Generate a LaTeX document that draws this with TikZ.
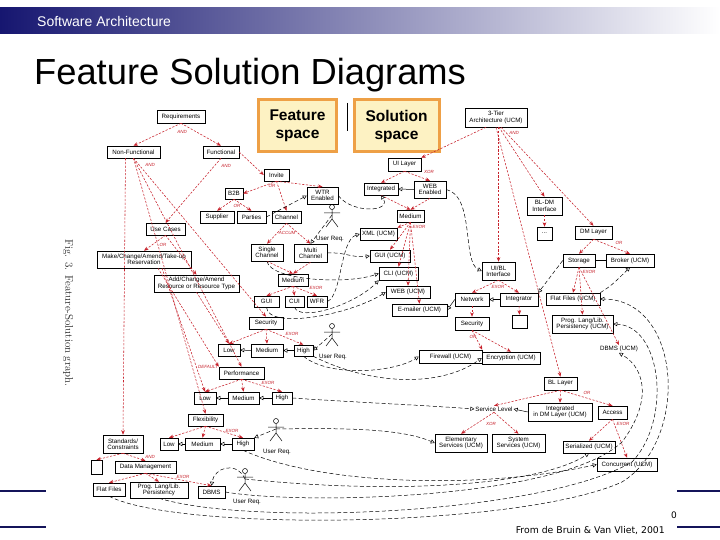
\documentclass[tikz,border=0pt]{standalone}
\usepackage{fontspec}
\newfontfamily\arialf{Liberation Sans}
\newfontfamily\dejaf{DejaVu Sans}
\usetikzlibrary{arrows.meta,calc}
\definecolor{myred}{RGB}{200,35,45}
\definecolor{navy}{RGB}{22,22,112}
\definecolor{lineblue}{RGB}{20,20,90}
\definecolor{fsfill}{RGB}{253,242,195}
\definecolor{fsdraw}{RGB}{238,160,70}
\newcommand{\bx}[7][]{\node[box,#1,minimum width={(#5-#3)*1pt},minimum height={(#6-#4)*1pt}] (#2) at ({(#3+#5)/2},{(#4+#6)/2}) {#7};}
\newcommand{\stickman}[3]{%
  \draw[line width=0.5pt] (#2,#3) circle (2.5);
  \draw[line width=0.5pt] (#2,#3+2.5) -- (#2,#3+12) (#2-8,#3+6) -- (#2+8,#3+6)
     (#2,#3+12) -- (#2-6,#3+20) (#2,#3+12) -- (#2+6,#3+20);
  \coordinate (#1) at (#2,#3+8);}
\tikzset{
 box/.style={draw, line width=0.5pt, inner sep=0.8pt, align=center, font=\arialf\fontsize{6.2}{6.4}\selectfont},
 plain/.style={inner sep=0.8pt, align=center, font=\arialf\fontsize{6.2}{6.4}\selectfont},
 ra/.style={draw=myred, line width=0.55pt, dash pattern=on 2.2pt off 1.5pt, -{Stealth[length=4.5pt,width=3.6pt]}},
 rlab/.style={font=\arialf\itshape\fontsize{4.5}{4.5}\selectfont, text=myred, inner sep=0.5pt},
 bd/.style={draw=black, line width=0.5pt, dash pattern=on 4pt off 2.4pt, -{Triangle[open,length=4pt,width=4.2pt]}},
 gen/.style={draw=black, line width=0.5pt, -{Triangle[open,length=4pt,width=4.2pt]}},
 actlab/.style={font=\arialf\fontsize{6.2}{6.4}\selectfont, inner sep=0.5pt},
 fsbox/.style={draw=fsdraw, line width=3pt, fill=fsfill, align=center, inner sep=0pt,
   font=\arialf\bfseries\fontsize{15.5}{18}\selectfont},
}
\begin{document}
\begin{tikzpicture}[x=1pt,y=-1pt]
\useasboundingbox (0,0) rectangle (720,540);
\fill[white] (0,0) rectangle (720,540);
% header
\shade[left color=navy, right color=white] (0,8) rectangle (720,34);
\node[anchor=west, text=white, inner sep=0pt, font=\arialf\fontsize{14}{14}\selectfont] (hdr) at (37,21) {Software Architecture};
\node[anchor=base west, inner sep=0pt, font=\arialf\fontsize{36.3}{37}\selectfont] (title) at (34,85) {Feature Solution Diagrams};
% bottom lines
\draw[lineblue, line width=2.5pt] (0,491) -- (46,491) (0,527) -- (46,527) (677,491) -- (720,491) (677,527) -- (720,527);
\node[anchor=base east, inner sep=0pt, font=\dejaf\fontsize{9.3}{9.3}\selectfont] (src) at (665,533) {From de Bruin \& Van Vliet, 2001};
\node[inner sep=0pt, font=\dejaf\fontsize{9}{9}\selectfont] (pg) at (674,515) {0};
% feature / solution space labels
\node[fsbox, minimum width=78pt, minimum height=52pt] (fs) at (297.5,126) {Feature\\space};
\node[fsbox, minimum width=85pt, minimum height=52pt] (ss) at (396.5,126) {Solution\\space};
\draw[line width=0.6pt] (347,103) -- (347,131);
% rotated caption
\node[rotate=-90, inner sep=0pt, text=black!85, font=\fontsize{11}{11}\selectfont] (fig) at (68,313) {Fig. 3. Feature-Solution graph.};

% ---------------- feature nodes
\bx{req}{157}{110}{205}{123}{Requirements}
\bx{nf}{107}{146}{160}{158}{Non-Functional}
\bx{fn}{203}{146}{239}{158}{Functional}
\bx{inv}{264}{169}{289}{181}{Invite}
\bx{b2b}{225}{188}{243}{199}{B2B}
\bx{wtr}{307}{187}{338}{204}{WTR\\Enabled}
\bx{sup}{200}{211}{234}{223}{Supplier}
\bx{par}{237}{211}{266}{223}{Parties}
\bx{chan}{272}{211}{301}{223}{Channel}
\bx{uc}{146}{223}{185}{235}{Use Cases}
\bx{mkr}{97}{251}{191}{268}{Make/Change/Amend/Take-up\\Reservation}
\bx{adr}{154}{275}{239}{292}{Add/Change/Amend\\Resource or Resource Type}
\bx{sch}{251}{244}{283}{261}{Single\\Channel}
\bx{mch}{294}{244}{327}{262}{Multi\\Channel}
\bx{med}{278}{274}{308}{286}{Medium}
\bx{gui}{254}{296}{279}{307}{GUI}
\bx{cui}{285}{296}{304}{307}{CUI}
\bx{wfr}{307}{296}{327}{307}{WFR}
\bx{sec}{249}{317}{283}{329}{Security}
\bx{slo}{218}{344}{240}{356}{Low}
\bx{sme}{251}{344}{283}{357}{Medium}
\bx{shi}{294}{345}{313}{356}{High}
\bx{perf}{219}{367}{264}{379}{Performance}
\bx{plo}{194}{392}{216}{404}{Low}
\bx{pme}{228}{392}{259}{404}{Medium}
\bx{phi}{272}{392}{292}{404}{High}
\bx{flex}{188}{414}{223}{426}{Flexibility}
\bx{flo}{160}{438}{178}{450}{Low}
\bx{fme}{185}{438}{220}{450}{Medium}
\bx{fhi}{232}{438}{254}{450}{High}
\bx{stc}{103}{435}{143}{453}{Standards/\\Constraints}
\bx{emp}{91}{460}{102}{474}{}
\bx{dm}{115}{461}{176}{473}{Data Management}
\bx{ff}{93}{483}{125}{496}{Flat Files}
\bx{plp}{130}{482}{188}{498}{Prog. Lang/Lib.\\Persistency}
\bx{dbms}{198}{486}{225}{498}{DBMS}
% actors
\stickman{a1}{332}{207}
\node[actlab] (a1l) at (330,239) {User Req.};
\stickman{a2}{332}{326}
\node[actlab] (a2l) at (333,357) {User Req.};
\stickman{a3}{276}{421}
\node[actlab] (a3l) at (277,452) {User Req.};
\stickman{a4}{245}{471}
\node[actlab] (a4l) at (247,502) {User Req.};

% ---------------- solution nodes
\bx{ttier}{465}{108}{527}{127}{3-Tier\\Architecture (UCM)}
\bx{uil}{388}{158}{421}{171}{UI Layer}
\bx{integ}{364}{183}{398}{195}{Integrated}
\bx{webe}{414}{181}{446}{198}{WEB\\Enabled}
\bx{smed}{397}{210}{424}{222}{Medium}
\bx{xml}{360}{228}{397}{240}{XML (UCM)}
\bx{guiu}{370}{250}{410}{262}{GUI (UCM)}
\bx{cliu}{379}{267}{418}{280}{CLI (UCM)}
\bx{webu}{386}{286}{430}{298}{WEB (UCM)}
\bx{emu}{392}{304}{447}{316}{E-mailer (UCM)}
\bx{fwu}{419}{350}{482}{363}{Firewall (UCM)}
\bx{bldm}{527}{197}{562}{215}{BL-DM\\Interface}
\bx{dots}{537}{227}{552}{240}{...}
\bx{dml}{575}{226}{612}{239}{DM Layer}
\bx{uibl}{482}{262}{515}{280}{UI/BL\\Interface}
\bx{stor}{563}{254}{595}{267}{Storage}
\bx{brok}{606}{254}{654}{267}{Broker (UCM)}
\bx{net}{455}{293}{489}{306}{Network}
\bx{intr}{500}{293}{538}{306}{Integrator}
\bx{ibox}{512}{315}{527}{328}{}
\bx{ffu}{546}{293}{600}{305}{Flat Files (UCM)}
\bx{plpu}{552}{315}{613}{333}{Prog. Lang/Lib.\\Persistency (UCM)}
\bx{ssec}{455}{317}{489}{330}{Security}
\bx{encu}{482}{352}{540}{364}{Encryption (UCM)}
\node[plain] (dbmsu) at (619,349) {DBMS (UCM)};
\bx{bll}{544}{377}{577}{390}{BL Layer}
\node[plain] (svl) at (494,409) {Service Level};
\bx{idm}{528}{403}{592}{421}{Integrated\\in DM Layer (UCM)}
\bx{acc}{598}{406}{627}{419}{Access}
\bx{elem}{435}{434}{487}{452}{Elementary\\Services (UCM)}
\bx{syss}{492}{434}{545}{452}{System\\Services (UCM)}
\bx{ser}{563}{441}{615}{453}{Serialized (UCM)}
\bx{conc}{597}{458}{657}{471}{Concurrent (UCM)}

% ---------------- red decomposition edges (feature)
\draw[ra] (req.south) -- (nf.north);
\draw[ra] (req.south) -- (fn.north);
\draw[ra] (fn.south) -- (uc.north);
\draw[ra] (fn.east) -- (inv.west);
\draw[ra] (inv.south) -- (b2b.east);
\draw[ra] (inv.south) -- (wtr.north);
\draw[ra] (inv.south) -- (chan.north);
\draw[ra] (b2b.south) -- (sup.north);
\draw[ra] (b2b.south) -- (par.north);
\draw[ra] (chan.south) -- (sch.north);
\draw[ra] (chan.south) -- (mch.north);
\draw[ra] (sch.south) -- (med.north);
\draw[ra] (mch.south) -- (med.north);
\draw[ra] (med.south) -- (gui.north);
\draw[ra] (med.south) -- (cui.north);
\draw[ra] (med.south) -- (wfr.north);
\draw[ra] (uc.south) -- (mkr.north);
\draw[ra] (uc.south) -- (adr.north);
\draw[ra] (nf.south) -- (sec.north);
\draw[ra] (nf.south) -- (perf.north);
\draw[ra] (nf.south) -- (flex.north);
\draw[ra] ($(nf.south)+(-8,0)$) -- (stc.north);
\draw[ra] (sec.south) -- (slo.north);
\draw[ra] (sec.south) -- (sme.north);
\draw[ra] (sec.south) -- (shi.north);
\draw[ra] (perf.south) -- (plo.north);
\draw[ra] (perf.south) -- (pme.north);
\draw[ra] (perf.south) -- (phi.north);
\draw[ra] (flex.south) -- (flo.north);
\draw[ra] (flex.south) -- (fme.north);
\draw[ra] (flex.south) -- (fhi.north);
\draw[ra] (stc.south) -- (emp.north);
\draw[ra] (stc.south) -- (dm.north);
\draw[ra] (dm.south) -- (ff.north);
\draw[ra] (dm.south) -- (plp.north);
\draw[ra] (dm.south) -- (dbms.north);
\draw[ra] ($(mkr.south)+(18,0)$) -- (plo.north);
\draw[ra] ($(mkr.south)+(14,0)$) -- (perf.north west);
\draw[ra] (adr.south) -- (slo.north);
% red labels (feature)
\node[rlab] (l1) at (182,132) {AND};
\node[rlab] (l2) at (150,165) {AND};
\node[rlab] (l3) at (226,166) {AND};
\node[rlab] (l4) at (272,186) {OR};
\node[rlab] (l5) at (237,206) {OR};
\node[rlab] (l6) at (287,233) {ACCUM};
\node[rlab] (l7) at (163,245) {OR};
\node[rlab] (l8) at (316,288) {EXOR};
\node[rlab] (l9) at (292,334) {EXOR};
\node[rlab] (l10) at (208,367) {DEFAULT};
\node[rlab] (l11) at (268,383) {EXOR};
\node[rlab] (l12) at (232,431) {EXOR};
\node[rlab] (l13) at (150,457) {AND};
\node[rlab] (l14) at (183,477) {EXOR};

% ---------------- red decomposition edges (solution)
\draw[ra] ($(ttier.south)+(-10,0)$) -- (uil.north east);
\draw[ra] (uibl.north |- ttier.south) -- (uibl.north);
\draw[ra] ($(ttier.south)+(3,0)$) -- (bldm.north);
\draw[ra] ($(ttier.south)+(5,0)$) -- (dml.north);
\draw[ra] (ttier.south) -- (bll.north);
\draw[ra] (uil.south) -- (integ.north);
\draw[ra] (uil.south) -- (webe.north);
\draw[ra] (integ.south) -- (smed.north);
\draw[ra] (webe.south) -- (smed.north);
\draw[ra] (smed.south) -- (xml.north east);
\draw[ra] (smed.south) -- (guiu.north);
\draw[ra] (smed.south) -- (cliu.north);
\draw[ra] (smed.south) -- (webu.north);
\draw[ra] (smed.south) -- (emu.north);
\draw[ra] (bldm.south) -- (dots.north);
\draw[ra] (dml.south) -- (stor.north);
\draw[ra] (dml.south) -- (brok.north);
\draw[ra] (stor.south) -- (ffu.north);
\draw[ra] (stor.south) -- (plpu.north);
\draw[ra] (stor.south) -- (dbmsu.north);
\draw[ra] (uibl.south) -- (net.north);
\draw[ra] (uibl.south) -- (intr.north);
\draw[ra] (net.south) -- (ssec.north);
\draw[ra] (intr.south) -- (ibox.north);
\draw[ra] (ssec.south) -- (fwu.north east);
\draw[ra] (ssec.south) -- (encu.north);
\draw[ra] (bll.south) -- (svl.north);
\draw[ra] (bll.south) -- (idm.north);
\draw[ra] (bll.south) -- (acc.north);
\draw[ra] (svl.south) -- (elem.north);
\draw[ra] (svl.south) -- (syss.north);
\draw[ra] (acc.south) -- (ser.north);
\draw[ra] (acc.south) -- (conc.north);
% red labels (solution)
\node[rlab] (m1) at (514,133) {AND};
\node[rlab] (m2) at (429,172) {XOR};
\node[rlab] (m3) at (419,227) {EXOR};
\node[rlab] (m4) at (619,243) {OR};
\node[rlab] (m5) at (589,272) {EXOR};
\node[rlab] (m6) at (498,287) {EXOR};
\node[rlab] (m7) at (473,337) {OR};
\node[rlab] (m8) at (587,393) {OR};
\node[rlab] (m9) at (491,424) {XOR};
\node[rlab] (m10) at (623,424) {EXOR};

% ---------------- specialisation (solid, open triangle)
\draw[gen] (sme.west) -- (slo.east);
\draw[gen] (shi.west) -- (sme.east);
\draw[gen] (pme.west) -- (plo.east);
\draw[gen] (phi.west) -- (pme.east);
\draw[gen] (fme.west) -- (flo.east);
\draw[gen] (fhi.west) -- (fme.east);
\draw[gen] (webe.west) -- (integ.east);
\draw[gen] (idm.west) -- (svl.east);
\draw[gen] (intr.west) -- (net.east);
\draw[gen] (net.west) -- (emu.east);
\draw[line width=0.5pt] (stor.east) -- (brok.west);

% ---------------- feature-solution links (dashed, open triangle)
\draw[bd] (par.east) .. controls (285,208) .. (wtr.west);
\draw[bd] (wtr.east) .. controls (352,214) and (392,212) .. (integ.south);
\draw[bd] (a1) -- (mch.north);
\draw[bd] (mch.east) .. controls (345,252) and (352,258) .. (guiu.west);
\draw[bd] (sch.south) .. controls (270,280) and (345,285) .. (cliu.west);
\draw[bd] (gui.south) .. controls (268,330) and (350,315) .. (webu.west);
\draw[bd] (wfr.east) .. controls (342,296) and (340,240) .. (xml.west);
\draw[bd] (cui.south) .. controls (300,322) and (355,305) .. (cliu.south west);
\draw[bd] (a2) -- (shi.east);
\draw[bd] (shi.south) .. controls (330,378) and (395,372) .. (fwu.west);
\draw[bd] (shi.south east) .. controls (370,385) and (440,388) .. (encu.west);
\draw[bd] (phi.east) .. controls (350,402) and (420,405) .. (svl.west);
\draw[bd] (a3) .. controls (340,428) and (400,428) .. (elem.west);
\draw[bd] (a3) -- (fhi.north east);
\draw[bd] (fhi.south) .. controls (320,485) and (480,490) .. (conc.west);
\draw[bd] (a4) .. controls (236,460) and (214,468) .. (dbms.north);
\draw[bd] (a4) .. controls (400,495) and (540,485) .. (ser.south);
\draw[bd] (ff.south) .. controls (180,532) and (520,528) .. (622,482) .. controls (690,440) and (682,300) .. (ffu.east);
\draw[bd] (plp.south) .. controls (250,526) and (540,515) .. (632,462) .. controls (672,420) and (662,326) .. (plpu.east);
\draw[bd] (dbms.east) .. controls (300,505) and (560,500) .. (622,442) .. controls (650,405) and (648,370) .. (dbmsu.south);
\draw[bd] (stor.west) -- (intr.north east);
\draw[bd] (ffu.north east) .. controls (612,285) .. (brok.south);
\draw[bd] (webe.east) .. controls (475,196) and (462,262) .. (uibl.west);
\end{tikzpicture}
\end{document}
